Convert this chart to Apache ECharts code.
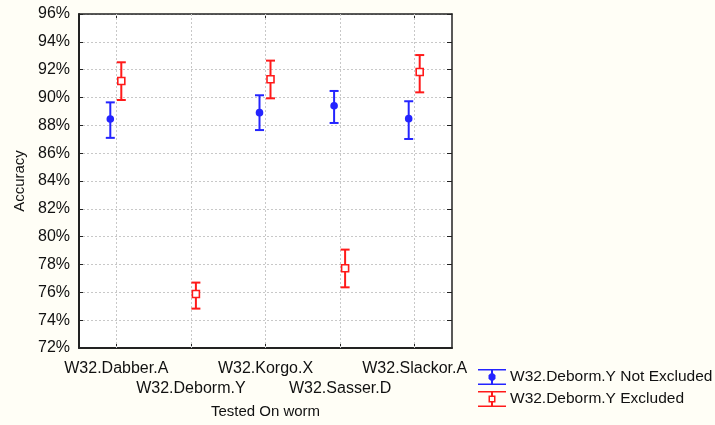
<!DOCTYPE html>
<html>
<head>
<meta charset="utf-8">
<script src="https://cdn.jsdelivr.net/npm/echarts@6/dist/echarts.min.js"></script>
<style>
  html, body { margin: 0; padding: 0; background: #fffef6; }
  #chart { width: 715px; height: 425px; }
</style>
</head>
<body>
<div id="chart"></div>
<script>
// worms tested on (x axis)
const categories = ["W32.Dabber.A", "W32.Deborm.Y", "W32.Korgo.X", "W32.Sasser.D", "W32.Slackor.A"];

// W32.Deborm.Y Not Excluded (no value for Deborm itself)
const notExclMean = [88.45, null, 88.91, 89.41, 88.48];
const notExclLow = [87.10, null, 87.66, 88.17, 87.02];
const notExclHigh = [89.65, null, 90.16, 90.47, 89.73];

// W32.Deborm.Y Excluded
const exclMean = [91.19, 75.88, 91.31, 77.73, 91.83];
const exclLow = [89.82, 74.83, 89.94, 76.36, 90.37];
const exclHigh = [92.53, 76.70, 92.65, 79.07, 93.05];

const yMin = 72, yMax = 96, yStep = 2;

const BLUE = "#2424ff";
const RED = "#ff1a1a";
const FONT = "Liberation Sans";

const buildRows = (mean, low, high) =>
  categories
    .map((c, i) => [i, mean[i], low[i], high[i]])
    .filter((r) => r[1] != null);

// draws one mean +/- error bar, shifted a bit sideways like the original
const errorBar = (offset, marker) => (params, api) => {
  const mid = api.coord([api.value(0), api.value(1)]);
  const lo = api.coord([api.value(0), api.value(2)]);
  const hi = api.coord([api.value(0), api.value(3)]);
  const color = api.visual("color");
  const x = mid[0] + offset;
  const cap = 4.5;
  const line = { stroke: color, lineWidth: 2 };
  const children = [
    { type: "line", shape: { x1: x, y1: hi[1], x2: x, y2: lo[1] }, style: line },
    { type: "line", shape: { x1: x - cap, y1: hi[1], x2: x + cap, y2: hi[1] }, style: line },
    { type: "line", shape: { x1: x - cap, y1: lo[1], x2: x + cap, y2: lo[1] }, style: line },
  ];
  if (marker === "dot") {
    children.push({ type: "circle", shape: { cx: x, cy: mid[1], r: 3.8 }, style: { fill: color } });
  } else {
    children.push({
      type: "rect",
      shape: { x: x - 3.5, y: mid[1] - 3.5, width: 7, height: 7 },
      style: { fill: "#fff", stroke: color, lineWidth: 1.6 },
    });
  }
  return { type: "group", children };
};

const iconDot =
  "path://M0 0H28V1.5H0Z M0 14.5H28V16H0Z M13 0H15V16H13Z M12.3 4.5H15.7L17.5 6.3V9.7L15.7 11.5H12.3L10.5 9.7V6.3Z";
const iconSquare =
  "path://M0 0H28V1.5H0Z M0 14.5H28V16H0Z M13 1.5H15V4.5H13Z M13 11.5H15V14.5H13Z M10.5 4.5H17.5V11.5H10.5Z M12 6V10H16V6Z";

const chart = echarts.init(document.getElementById("chart"));

const axisLine = { show: true, lineStyle: { color: "#222", width: 2 } };

const option = {
  backgroundColor: "#fffef6",
  animation: false,
  textStyle: { fontFamily: FONT },
  grid: {
    left: 79,
    top: 14,
    right: 263,
    bottom: 77,
    outerBoundsMode: "none",
    containLabel: false,
    show: true,
    backgroundColor: "#ffffff",
    borderWidth: 0,
  },
  legend: {
    left: 478,
    top: 369,
    orient: "vertical",
    itemWidth: 28,
    itemHeight: 16,
    itemGap: 6,
    padding: 0,
    textStyle: { fontFamily: FONT, fontSize: 15.5, color: "#111", padding: [0, 0, 0, -1] },
    data: [
      { name: "W32.Deborm.Y Not Excluded", icon: iconDot },
      { name: "W32.Deborm.Y Excluded", icon: iconSquare },
    ],
  },
  xAxis: [
    {
      type: "category",
      data: categories,
      name: "Tested On worm",
      nameLocation: "middle",
      nameGap: 56,
      nameTextStyle: { fontFamily: FONT, fontSize: 15, color: "#111" },
      axisLine,
      axisTick: { show: true, inside: true, alignWithLabel: true, length: 4, lineStyle: { color: "#222" } },
      splitLine: { show: false },
      axisLabel: {
        interval: 0,
        margin: 11,
        fontFamily: FONT,
        fontSize: 16,
        color: "#111",
        lineHeight: 20,
        formatter: (v, i) => (i % 2 ? "\n" + v : v),
      },
    },
    {
      type: "category",
      data: categories,
      position: "top",
      axisLine: { show: true, lineStyle: { color: "#222", width: 1.5 } },
      axisTick: { show: true, inside: true, alignWithLabel: true, length: 4, lineStyle: { color: "#222" } },
      axisLabel: { show: false },
    },
  ],
  yAxis: [
    {
      type: "value",
      min: yMin,
      max: yMax,
      interval: yStep,
      name: "Accuracy",
      nameLocation: "middle",
      nameGap: 51,
      nameTextStyle: { fontFamily: FONT, fontSize: 15, color: "#111" },
      axisLine,
      axisTick: { show: true, inside: true, length: 4, lineStyle: { color: "#222" } },
      splitLine: { show: true, lineStyle: { color: "#c8c8c8", type: [2, 2], width: 1 } },
      axisLabel: {
        margin: 9,
        fontFamily: FONT,
        fontSize: 16,
        color: "#111",
        formatter: (v) => v + "%",
      },
    },
    {
      type: "value",
      min: yMin,
      max: yMax,
      interval: yStep,
      position: "right",
      axisLine: { show: true, lineStyle: { color: "#222", width: 1.5 } },
      axisTick: { show: true, inside: true, length: 5, lineStyle: { color: "#222" } },
      axisLabel: { show: false },
      splitLine: { show: false },
    },
  ],
  series: [
    {
      // vertical dotted grid lines through the category centres
      name: "grid",
      type: "line",
      data: [],
      silent: true,
      z: 1,
      markLine: {
        silent: true,
        symbol: "none",
        label: { show: false },
        lineStyle: { color: "#c8c8c8", type: [2, 2], width: 1 },
        data: categories.map((c) => ({ xAxis: c })),
      },
    },
    {
      name: "W32.Deborm.Y Not Excluded",
      type: "custom",
      color: BLUE,
      z: 5,
      renderItem: errorBar(-6, "dot"),
      encode: { x: 0, y: [1, 2, 3] },
      data: buildRows(notExclMean, notExclLow, notExclHigh),
    },
    {
      name: "W32.Deborm.Y Excluded",
      type: "custom",
      color: RED,
      z: 5,
      renderItem: errorBar(5, "square"),
      encode: { x: 0, y: [1, 2, 3] },
      data: buildRows(exclMean, exclLow, exclHigh),
    },
  ],
};

chart.setOption(option);
</script>
</body>
</html>
